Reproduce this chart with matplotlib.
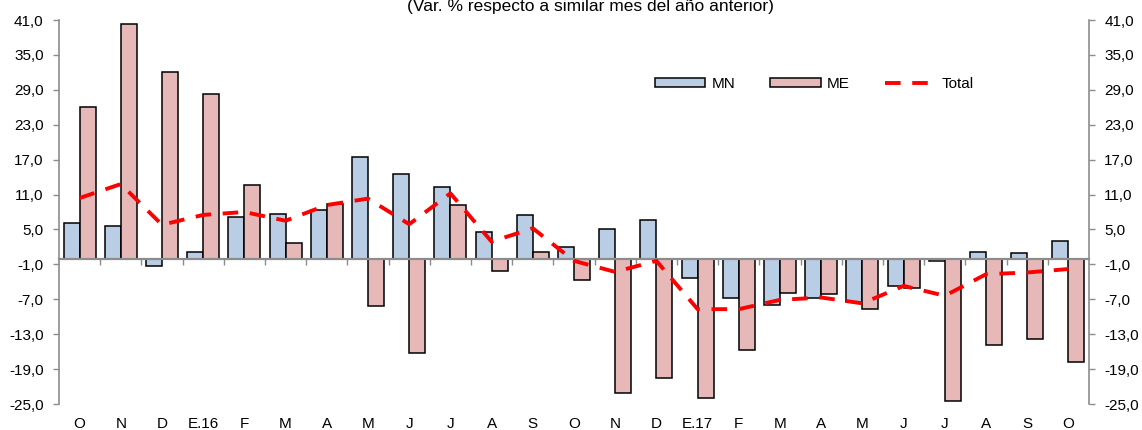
import numpy as np
import matplotlib.pyplot as plt

plt.rcParams['font.family'] = ['Liberation Sans', 'DejaVu Sans']

meses = ['O', 'N', 'D', 'E.16', 'F', 'M', 'A', 'M', 'J', 'J', 'A', 'S',
         'O', 'N', 'D', 'E.17', 'F', 'M', 'A', 'M', 'J', 'J', 'A', 'S', 'O']
mn = [6.1, 5.6, -1.3, 1.1, 7.2, 7.7, 8.3, 17.5, 14.6, 12.3, 4.5, 7.5,
      1.9, 5.0, 6.7, -3.3, -6.7, -7.9, -6.7, -7.4, -4.7, -0.4, 1.1, 1.0, 3.1]
me = [26.1, 40.3, 32.1, 28.2, 12.7, 2.6, 9.3, -8.1, -16.2, 9.2, -2.2, 1.2,
      -3.7, -23.1, -20.5, -23.9, -15.8, -6.0, -6.1, -8.7, -5.0, -24.4, -14.9, -13.8, -17.7]
total = [10.4, 12.8, 5.8, 7.5, 8.0, 6.5, 9.2, 10.3, 5.9, 11.2, 2.9, 5.2,
         -0.4, -2.3, -0.4, -8.7, -8.7, -7.1, -6.7, -7.7, -4.7, -6.4, -2.7, -2.4, -1.8]

yticks = np.arange(-25, 42, 6)
fs = 11

fig = plt.figure(figsize=(11.42, 4.3), dpi=100)
ax = fig.add_axes([59/1142, 26/430, 1030/1142, 384/430])

x = np.arange(len(meses))
w = 0.39
gris = '#8c8c8c'
b1 = ax.bar(x - w/2, mn, w, color='#b9cde5', edgecolor='black', linewidth=1.1, label='MN', zorder=2)
b2 = ax.bar(x + w/2, me, w, color='#e6b9b8', edgecolor='black', linewidth=1.1, label='ME', zorder=2)
l1, = ax.plot(x, total, color='#ff0000', linewidth=2.8, dashes=(4, 3), label='Total', zorder=3)

ax.set_xlim(-0.5, len(meses) - 0.5)
ax.set_ylim(-25, 41)
ax.set_yticks(yticks)
ax.set_yticklabels([f'{v:.1f}'.replace('.', ',') for v in yticks])
ax.tick_params(axis='y', which='both', left=True, right=True, labelleft=True, labelright=True,
               length=4, width=1, color=gris, labelsize=fs, pad=7)

# eje horizontal en cero con marcas entre meses
ax.spines['bottom'].set_position(('data', 0))
ax.spines['bottom'].set_color(gris)
ax.spines['bottom'].set_linewidth(1.6)
ax.set_xticks(x[:-1] + 0.5)
ax.set_xticklabels([])
ax.tick_params(axis='x', length=4, width=1, color=gris)
ax.spines['top'].set_visible(False)
for s in ['left', 'right']:
    ax.spines[s].set_color(gris)
    ax.spines[s].set_linewidth(1.2)

sec = ax.secondary_xaxis('bottom')
sec.set_xticks(x)
sec.set_xticklabels(meses)
sec.tick_params(length=0, labelsize=fs, pad=9)
sec.spines['bottom'].set_visible(False)

fig.text(590/1142, 1 - 6/430, '(Var. % respecto a similar mes del año anterior)',
         ha='center', va='center', fontsize=12.5)

ax.legend([b1, b2, l1], ['MN', 'ME', 'Total'],
          loc='center left', bbox_to_anchor=(655/1142, 1 - 84/430), bbox_transform=fig.transFigure,
          ncol=3, frameon=False, fontsize=fs, handlelength=3.3, handleheight=0.6,
          handletextpad=0.4, columnspacing=2.3, borderpad=0, borderaxespad=0)

fig.savefig('out.png', dpi=100)
